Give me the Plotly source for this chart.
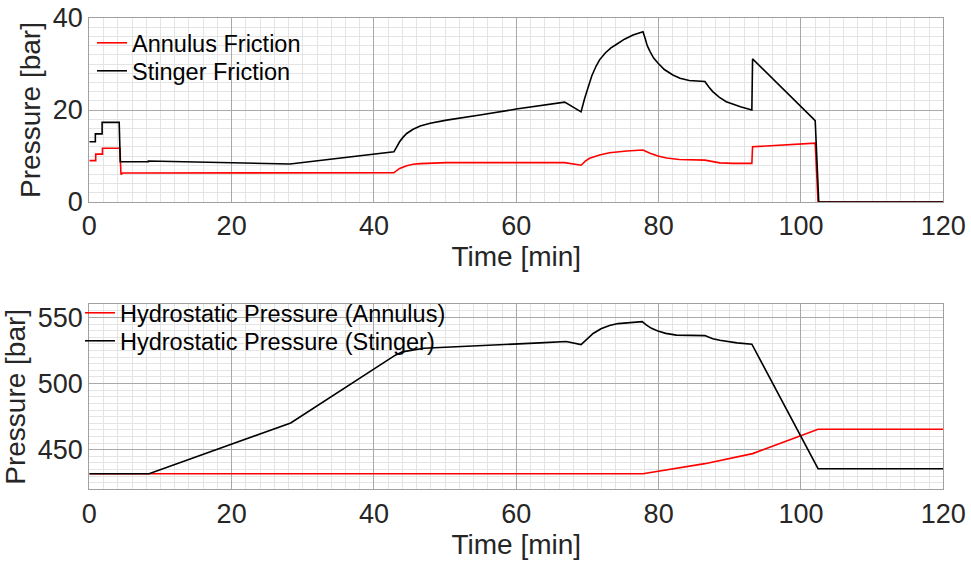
import plotly.graph_objects as go

# ---------------- data ----------------
# Top panel: friction pressures [bar] vs time [min]
t_ann_fric = [0, 0.9, 0.9, 1.85, 1.85, 4.3, 4.45, 4.7, 42.8, 43.6, 44.6, 45.5, 46.5, 47.9, 50.2,
              66.8, 69.1, 69.7, 70.3, 71.7, 73.1, 75.5, 77.8, 78.8, 79.9, 81.1, 82.9, 86.5,
              87.5, 88.6, 90.5, 93.1, 93.2, 102.0, 102.4, 120]
p_ann_fric = [9.0, 9.0, 10.4, 10.4, 11.7, 11.7, 6.0, 6.3, 6.35, 7.3, 7.9, 8.2, 8.35, 8.45, 8.55,
              8.55, 8.0, 8.9, 9.5, 10.2, 10.7, 11.1, 11.3, 10.6, 10.0, 9.57, 9.25, 9.1,
              8.75, 8.5, 8.4, 8.4, 12.0, 12.8, 0, 0]

t_sti_fric = [0, 0.85, 0.85, 1.8, 1.8, 4.2, 4.35, 8.3, 8.3, 28.2, 42.8, 43.2, 43.6, 44.1, 44.6,
              45.5, 46.5, 47.9, 50.2, 54.9, 60.0, 66.8, 69.1, 69.6, 70.0, 70.6, 71.2, 71.7,
              72.5, 73.3, 74.1, 75.2, 76.4, 77.8, 78.1, 78.4, 78.8, 79.3, 79.9, 80.8, 82.0,
              83.0, 84.3, 86.5, 87.0, 87.6, 88.5, 89.5, 91.5, 93.1, 93.2, 102.0, 102.5, 120]
p_sti_fric = [13.1, 13.1, 14.8, 14.8, 17.3, 17.3, 8.76, 8.76, 8.9, 8.26, 10.9, 12.0, 13.1, 14.1, 14.9,
              15.8, 16.5, 17.1, 17.8, 18.9, 20.2, 21.7, 19.6, 22.5, 24.7, 27.4, 29.5, 30.9,
              32.4, 33.5, 34.3, 35.4, 36.3, 37.0, 35.6, 34.0, 32.7, 31.3, 30.2, 28.8, 27.6,
              26.9, 26.4, 26.2, 25.1, 24.0, 22.8, 21.8, 20.7, 20.0, 31.1, 17.7, 0, 0]

# Bottom panel: hydrostatic pressures [bar] vs time [min]
t_ann_hyd = [0, 77.8, 86.5, 93.2, 102.4, 120]
p_ann_hyd = [431.8, 431.8, 439.4, 447.0, 465.4, 465.4]

t_sti_hyd = [0, 8.4, 28.3, 40.8, 43.0, 44.0, 45.5, 47.0, 63.3, 67.0, 69.1, 69.6, 70.2, 70.8,
             71.9, 73.1, 74.3, 75.5, 76.6, 77.7, 78.3, 79.0, 79.9, 81.0, 82.5, 86.5, 87.0,
             87.6, 88.6, 91.0, 93.1, 102.4, 120]
p_sti_hyd = [431.8, 431.8, 470.2, 513.6, 521.5, 524.0, 525.5, 526.7, 530.8, 531.8, 529.5, 532.0,
             535.2, 537.9, 541.5, 544.0, 545.4, 546.1, 546.6, 546.9, 544.3, 541.8, 539.8, 538.0,
             536.7, 536.3, 535.2, 534.0, 532.8, 530.8, 529.8, 435.6, 435.6]

x_ticks = [0, 20, 40, 60, 80, 100, 120]
y1_ticks = [0, 20, 40]
y2_ticks = [450, 500, 550]

# ---------------- figure ----------------
FONT = "Liberation Sans, Arial, Helvetica, sans-serif"
TXT = "#262626"
MAJ = "#a9a9a9"
MIN = "#e4e4e4"
BOX = "#a0a0a0"

fig = go.Figure()
fig.add_trace(go.Scatter(x=t_ann_fric, y=p_ann_fric, mode="lines", name="Annulus Friction",
                         line=dict(color="#ff0000", width=1.6), xaxis="x", yaxis="y", legend="legend"))
fig.add_trace(go.Scatter(x=t_sti_fric, y=p_sti_fric, mode="lines", name="Stinger Friction",
                         line=dict(color="#000000", width=1.6), xaxis="x", yaxis="y", legend="legend2"))
fig.add_trace(go.Scatter(x=t_ann_hyd, y=p_ann_hyd, mode="lines", name="Hydrostatic Pressure (Annulus)",
                         line=dict(color="#ff0000", width=1.6), xaxis="x2", yaxis="y2", legend="legend3"))
fig.add_trace(go.Scatter(x=t_sti_hyd, y=p_sti_hyd, mode="lines", name="Hydrostatic Pressure (Stinger)",
                         line=dict(color="#000000", width=1.6), xaxis="x2", yaxis="y2", legend="legend4"))

W, H = 971, 565
xdom = [89.3 / W, 943.3 / W]
y1dom = [1 - 202 / H, 1 - 18 / H]
y2dom = [1 - 489.3 / H, 1 - 304.3 / H]


def xax(anchor, dom):
    return dict(domain=dom, anchor=anchor, range=[0, 120], tickvals=x_ticks, automargin=False,
                showgrid=True, gridcolor=MAJ, gridwidth=1,
                minor=dict(dtick=2, tick0=0, showgrid=True, gridcolor=MIN, gridwidth=1),
                showline=True, linecolor=BOX, linewidth=1, mirror=True, zeroline=False,
                ticks="", tickfont=dict(family=FONT, size=27, color=TXT),
                title=dict(text="Time [min]", font=dict(family=FONT, size=28, color=TXT), standoff=5))


def yax(anchor, dom, rng, ticks, mdt):
    return dict(domain=dom, anchor=anchor, range=rng, tickvals=ticks, automargin=False,
                showgrid=True, gridcolor=MAJ, gridwidth=1,
                minor=dict(dtick=mdt, tick0=0, showgrid=True, gridcolor=MIN, gridwidth=1),
                showline=True, linecolor=BOX, linewidth=1, mirror=True, zeroline=False,
                ticks="", tickfont=dict(family=FONT, size=27, color=TXT),
                title=dict(text="Pressure [bar]", font=dict(family=FONT, size=28, color=TXT), standoff=4))


def leg(xpx, ypx):
    return dict(x=xpx / W, y=1 - ypx / H, xanchor="left", yanchor="middle",
                bgcolor="rgba(0,0,0,0)", borderwidth=0, tracegroupgap=0,
                font=dict(family=FONT, size=23.5, color="#000000"), itemwidth=30)


fig.update_layout(
    width=W, height=H,
    margin=dict(l=0, r=0, t=0, b=0, autoexpand=False),
    paper_bgcolor="white", plot_bgcolor="white",
    font=dict(family=FONT, color=TXT),
    xaxis=xax("y", xdom),
    yaxis=yax("x", y1dom, [0, 40], y1_ticks, 2),
    xaxis2=xax("y2", xdom),
    yaxis2=yax("x2", y2dom, [420, 560], y2_ticks, 5),
    legend=leg(92, 43),
    legend2=leg(92, 71),
    legend3=leg(80, 313),
    legend4=leg(80, 341),
    showlegend=True,
)

fig.write_html("out.html")
